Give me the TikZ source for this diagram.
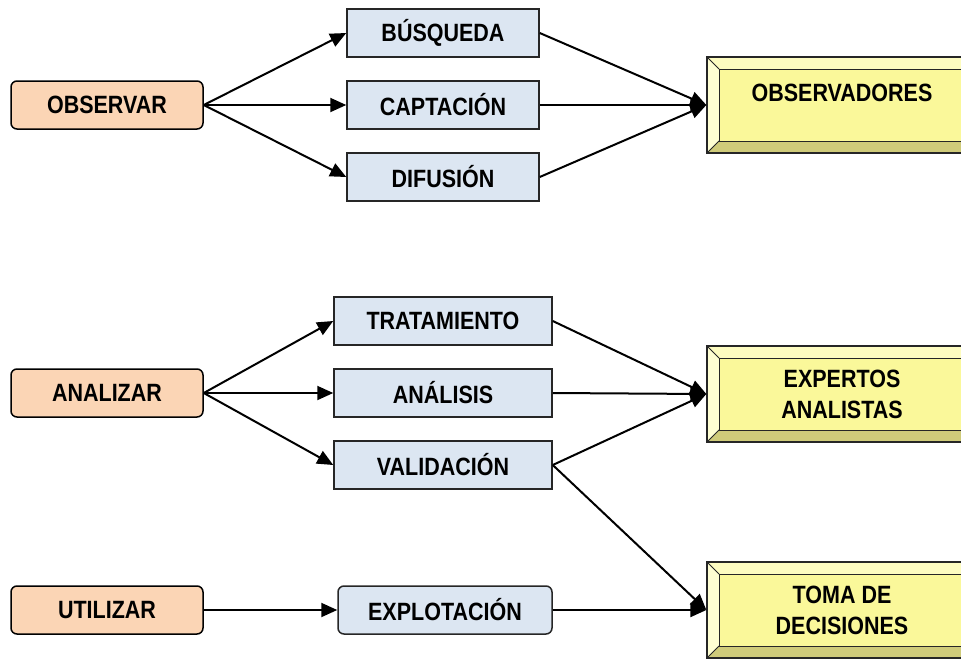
\documentclass[tikz,border=0pt]{standalone}
\usepackage{fontspec}
\setmainfont[FakeStretch=0.86]{Liberation Sans}
\usetikzlibrary{arrows.meta}

\definecolor{actfill}{HTML}{FBD5B5}
\definecolor{subfill}{HTML}{DCE6F2}
\definecolor{panfill}{HTML}{FAF89A}
\definecolor{pantop}{HTML}{FDFCC0}
\definecolor{panleft}{HTML}{FEFED2}
\definecolor{panbot}{HTML}{CFCB7A}
\definecolor{panright}{HTML}{B9B566}

\begin{document}
\begin{tikzpicture}[
  x=1pt, y=-1pt,
  font=\fontsize{25}{31}\selectfont\bfseries,
  act/.style={draw=black, line width=1.5pt, rounded corners=6pt, fill=actfill,
              minimum width=192, minimum height=48, inner sep=2pt},
  sub/.style={draw=black!85, line width=1.5pt, fill=subfill, minimum height=48,
              inner sep=2pt},
  panel/.style={draw=black!85, line width=1.3pt, fill=panfill, align=center,
                minimum width=270, minimum height=96, inner sep=2pt,
                path picture={
                  \fill[pantop] (path picture bounding box.north west) -- (path picture bounding box.north east)
                    -- ([shift={(-12pt,-12pt)}]path picture bounding box.north east)
                    -- ([shift={(12pt,-12pt)}]path picture bounding box.north west) -- cycle;
                  \fill[panleft] (path picture bounding box.north west) -- (path picture bounding box.south west)
                    -- ([shift={(12pt,12pt)}]path picture bounding box.south west)
                    -- ([shift={(12pt,-12pt)}]path picture bounding box.north west) -- cycle;
                  \fill[panbot] (path picture bounding box.south west) -- (path picture bounding box.south east)
                    -- ([shift={(-12pt,12pt)}]path picture bounding box.south east)
                    -- ([shift={(12pt,12pt)}]path picture bounding box.south west) -- cycle;
                  \fill[panright] (path picture bounding box.north east) -- (path picture bounding box.south east)
                    -- ([shift={(-12pt,12pt)}]path picture bounding box.south east)
                    -- ([shift={(-12pt,-12pt)}]path picture bounding box.north east) -- cycle;
                  \draw[line width=1pt] ([shift={(12pt,-12pt)}]path picture bounding box.north west)
                    rectangle ([shift={(-12pt,12pt)}]path picture bounding box.south east);
                  \draw[line width=1pt] (path picture bounding box.north west) -- ++(12pt,-12pt)
                    (path picture bounding box.south west) -- ++(12pt,12pt)
                    (path picture bounding box.north east) -- ++(-12pt,-12pt)
                    (path picture bounding box.south east) -- ++(-12pt,12pt);}},
  sarr/.style={-{Triangle[length=16pt,width=14pt]}, line width=2pt, draw=black}
]
\useasboundingbox (0,0) rectangle (961,659);
\clip (0,0) rectangle (961,659);

% observar
\node[act] (obs) at (107,105) {OBSERVAR};
\node[sub, minimum width=192] (bus) at (443,33) {BÚSQUEDA};
\node[sub, minimum width=192] (cap) at (443,105) {CAPTACIÓN};
\node[sub, minimum width=192] (dif) at (443,177) {DIFUSIÓN};
\node[panel] (obv) at (842,105) {OBSERVADORES\\[-6pt]\mbox{}};

% analizar
\node[act] (ana) at (107,393) {ANALIZAR};
\node[sub, minimum width=218] (tra) at (443,321) {TRATAMIENTO};
\node[sub, minimum width=218] (anl) at (443,393) {ANÁLISIS};
\node[sub, minimum width=218] (val) at (443,465) {VALIDACIÓN};
\node[panel] (exa) at (842,394) {EXPERTOS\\ANALISTAS};

% utilizar
\node[act] (uti) at (107,610) {UTILIZAR};
\node[sub, rounded corners=6pt, minimum width=214] (exl) at (445,610) {EXPLOTACIÓN};
\node[panel] (tom) at (842,610) {TOMA DE\\DECISIONES};

\foreach \x/\y in {obs/bus, obs/cap, obs/dif, bus/obv, cap/obv, dif/obv,
                   ana/tra, ana/anl, ana/val, tra/exa, anl/exa, val/exa,
                   uti/exl, exl/tom, val/tom}{
  \draw[sarr] (\x.east) -- (\y.west);}
\end{tikzpicture}
\end{document}
